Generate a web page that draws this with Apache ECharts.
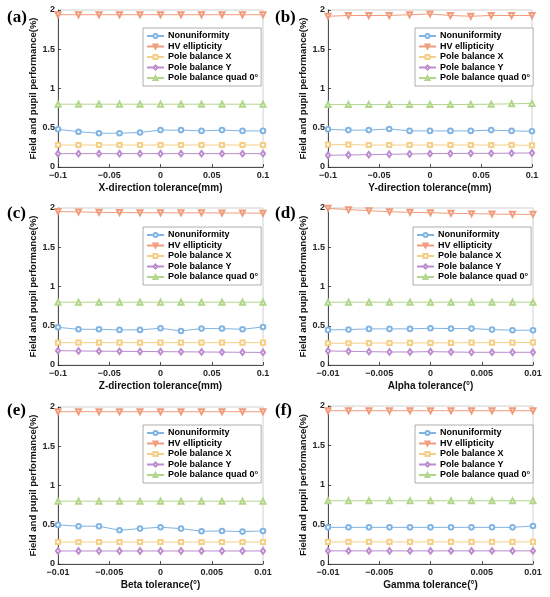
<!DOCTYPE html>
<html>
<head>
<meta charset="utf-8">
<script src="https://cdn.jsdelivr.net/npm/echarts@6/dist/echarts.min.js"></script>
<style>html,body{margin:0;padding:0;background:#fff;}#chart{width:550px;height:597px;}</style>
</head>
<body>
<div id="chart"></div>
<script>
// ---- data ----
const xMM  = [-0.1, -0.08, -0.06, -0.04, -0.02, 0, 0.02, 0.04, 0.06, 0.08, 0.1];
const xDeg = [-0.01, -0.008, -0.006, -0.004, -0.002, 0, 0.002, 0.004, 0.006, 0.008, 0.01];
const seriesNames = ['Nonuniformity', 'HV ellipticity', 'Pole balance X', 'Pole balance Y', 'Pole balance quad 0°'];
const panelLabels = ['(a)', '(b)', '(c)', '(d)', '(e)', '(f)'];
const xAxisNames = ['X-direction tolerance(mm)', 'Y-direction tolerance(mm)', 'Z-direction tolerance(mm)',
                    'Alpha tolerance(°)', 'Beta tolerance(°)', 'Gamma tolerance(°)'];
const yAxisName = 'Field and pupil performance(%)';
const yTicks = [0, 0.5, 1, 1.5, 2];

// panel (a) X-direction
const aNonuniformity = [0.48, 0.45, 0.43, 0.43, 0.44, 0.47, 0.47, 0.46, 0.47, 0.46, 0.46];
const aHV            = [1.94, 1.94, 1.94, 1.94, 1.94, 1.94, 1.94, 1.94, 1.94, 1.94, 1.94];
const aPoleX         = [0.28, 0.28, 0.28, 0.28, 0.28, 0.28, 0.28, 0.28, 0.28, 0.28, 0.28];
const aPoleY         = [0.17, 0.17, 0.17, 0.17, 0.17, 0.17, 0.17, 0.17, 0.17, 0.17, 0.17];
const aQuad          = [0.80, 0.80, 0.80, 0.80, 0.80, 0.80, 0.80, 0.80, 0.80, 0.80, 0.80];
// panel (b) Y-direction
const bNonuniformity = [0.48, 0.47, 0.47, 0.485, 0.46, 0.46, 0.46, 0.46, 0.47, 0.46, 0.455];
const bHV            = [1.92, 1.93, 1.93, 1.93, 1.94, 1.95, 1.93, 1.92, 1.93, 1.93, 1.93];
const bPoleX         = [0.285, 0.285, 0.28, 0.28, 0.28, 0.28, 0.28, 0.28, 0.28, 0.28, 0.275];
const bPoleY         = [0.15, 0.153, 0.157, 0.162, 0.166, 0.17, 0.172, 0.174, 0.174, 0.176, 0.179];
const bQuad          = [0.795, 0.795, 0.795, 0.795, 0.795, 0.795, 0.795, 0.797, 0.80, 0.805, 0.81];
// panel (c) Z-direction
const cNonuniformity = [0.48, 0.455, 0.455, 0.447, 0.447, 0.468, 0.434, 0.464, 0.464, 0.455, 0.485];
const cHV            = [1.955, 1.95, 1.945, 1.942, 1.94, 1.94, 1.938, 1.938, 1.936, 1.936, 1.934];
const cPoleX         = [0.285, 0.285, 0.285, 0.285, 0.285, 0.285, 0.285, 0.285, 0.285, 0.285, 0.285];
const cPoleY         = [0.183, 0.179, 0.176, 0.174, 0.172, 0.17, 0.168, 0.166, 0.164, 0.162, 0.16];
const cQuad          = [0.80, 0.80, 0.80, 0.80, 0.80, 0.80, 0.80, 0.80, 0.80, 0.80, 0.80];
// panel (d) Alpha
const dNonuniformity = [0.447, 0.451, 0.46, 0.46, 0.46, 0.468, 0.464, 0.464, 0.451, 0.443, 0.443];
const dHV            = [1.996, 1.979, 1.966, 1.953, 1.945, 1.94, 1.932, 1.928, 1.923, 1.919, 1.919];
const dPoleX         = [0.277, 0.277, 0.279, 0.28, 0.281, 0.282, 0.283, 0.284, 0.285, 0.286, 0.287];
const dPoleY         = [0.179, 0.174, 0.17, 0.166, 0.166, 0.17, 0.166, 0.162, 0.162, 0.162, 0.162];
const dQuad          = [0.80, 0.80, 0.80, 0.80, 0.80, 0.80, 0.80, 0.80, 0.80, 0.80, 0.80];
// panel (e) Beta
const eNonuniformity = [0.498, 0.481, 0.481, 0.43, 0.451, 0.468, 0.451, 0.417, 0.421, 0.413, 0.421];
const eHV            = [1.94, 1.94, 1.94, 1.94, 1.94, 1.94, 1.94, 1.94, 1.94, 1.94, 1.94];
const ePoleX         = [0.28, 0.28, 0.28, 0.28, 0.28, 0.28, 0.28, 0.28, 0.28, 0.28, 0.28];
const ePoleY         = [0.166, 0.166, 0.166, 0.166, 0.166, 0.166, 0.166, 0.166, 0.166, 0.166, 0.166];
const eQuad          = [0.80, 0.80, 0.80, 0.80, 0.80, 0.80, 0.80, 0.80, 0.80, 0.80, 0.80];
// panel (f) Gamma
const fNonuniformity = [0.464, 0.464, 0.464, 0.464, 0.464, 0.464, 0.464, 0.464, 0.464, 0.464, 0.481];
const fHV            = [1.94, 1.94, 1.94, 1.94, 1.94, 1.94, 1.94, 1.94, 1.94, 1.94, 1.94];
const fPoleX         = [0.28, 0.28, 0.28, 0.28, 0.28, 0.28, 0.28, 0.28, 0.28, 0.28, 0.28];
const fPoleY         = [0.166, 0.166, 0.166, 0.166, 0.166, 0.166, 0.166, 0.166, 0.166, 0.166, 0.166];
const fQuad          = [0.80, 0.80, 0.80, 0.80, 0.80, 0.80, 0.80, 0.80, 0.80, 0.80, 0.80];

// ---- layout / style ----
const panels = [
  { x: xMM,  ys: [aNonuniformity, aHV, aPoleX, aPoleY, aQuad], min: -0.1,  max: 0.1,  step: 0.05 },
  { x: xMM,  ys: [bNonuniformity, bHV, bPoleX, bPoleY, bQuad], min: -0.1,  max: 0.1,  step: 0.05 },
  { x: xMM,  ys: [cNonuniformity, cHV, cPoleX, cPoleY, cQuad], min: -0.1,  max: 0.1,  step: 0.05 },
  { x: xDeg, ys: [dNonuniformity, dHV, dPoleX, dPoleY, dQuad], min: -0.01, max: 0.01, step: 0.005 },
  { x: xDeg, ys: [eNonuniformity, eHV, ePoleX, ePoleY, eQuad], min: -0.01, max: 0.01, step: 0.005 },
  { x: xDeg, ys: [fNonuniformity, fHV, fPoleX, fPoleY, fQuad], min: -0.01, max: 0.01, step: 0.005 }
];
const gridBoxes = [
  { left: 58,  top: 10,  width: 205, height: 157 },
  { left: 328, top: 10,  width: 204, height: 157 },
  { left: 58,  top: 208, width: 205, height: 157 },
  { left: 328, top: 208, width: 205, height: 157 },
  { left: 58,  top: 407, width: 205, height: 157 },
  { left: 328, top: 406, width: 205, height: 158 }
];
const legendPos = [
  { left: 143, top: 28 }, { left: 415, top: 28 },
  { left: 143, top: 227 }, { left: 413, top: 227 },
  { left: 143, top: 425 }, { left: 415, top: 425 }
];
const labelPos = [
  { left: 7, top: 9 }, { left: 275, top: 9 },
  { left: 7, top: 205 }, { left: 275, top: 205 },
  { left: 7, top: 402 }, { left: 275, top: 402 }
];
const colors = ['#80b4e3', '#f09c7c', '#f5cf85', '#bb8ccf', '#b2d68a'];
const symbols = ['emptyCircle', 'emptyTriangle', 'emptyRect', 'emptyDiamond', 'emptyTriangle'];
const symRot = [0, 180, 0, 0, 0];
const symSize = [4.6, 5, 4.2, [4.2, 5.6], 5];
const FONT = '"Liberation Sans", Arial, sans-serif';
const AXC = '#262626';

function fmt(v) {
  return String(+(+v).toFixed(4)).replace('-', '\u2212');
}

const grid = [], xAxis = [], yAxis = [], series = [], legend = [], graphic = [];
panels.forEach((p, i) => {
  grid.push(Object.assign({ show: true, borderColor: '#c4c4c4', borderWidth: 0.8, containLabel: false }, gridBoxes[i]));
  xAxis.push({
    type: 'value', gridIndex: i, min: p.min, max: p.max, interval: p.step,
    name: xAxisNames[i], nameLocation: 'middle', nameGap: 16,
    nameTextStyle: { fontFamily: FONT, fontWeight: 'bold', fontSize: 10, color: '#111' },
    axisLine: { show: true, onZero: false, lineStyle: { color: AXC, width: 0.8 } },
    axisTick: { show: true, inside: true, length: 3, lineStyle: { color: AXC, width: 0.8 } },
    axisLabel: { fontFamily: FONT, fontWeight: 'bold', fontSize: 9, color: AXC, margin: 4, formatter: fmt },
    splitLine: { show: false }
  });
  yAxis.push({
    type: 'value', gridIndex: i, min: yTicks[0], max: yTicks[yTicks.length - 1], interval: yTicks[1] - yTicks[0],
    name: yAxisName, nameLocation: 'middle', nameGap: 13,
    nameTextStyle: { fontFamily: FONT, fontWeight: 'bold', fontSize: 9.5, color: '#111' },
    axisLine: { show: true, onZero: false, lineStyle: { color: AXC, width: 0.8 } },
    axisTick: { show: true, inside: true, length: 3, lineStyle: { color: AXC, width: 0.8 } },
    axisLabel: { fontFamily: FONT, fontWeight: 'bold', fontSize: 9, color: AXC, margin: 3, formatter: fmt },
    splitLine: { show: false }
  });
  p.ys.forEach((ys, k) => {
    series.push({
      type: 'line', name: seriesNames[k], xAxisIndex: i, yAxisIndex: i,
      data: p.x.map((xv, j) => [xv, ys[j]]),
      symbol: symbols[k], symbolRotate: symRot[k], symbolSize: symSize[k], showSymbol: true,
      lineStyle: { color: colors[k], width: 1 },
      itemStyle: { color: colors[k], borderColor: colors[k], borderWidth: 0.9 },
      emphasis: { disabled: true }, animation: false, z: 3
    });
  });
  legend.push({
    data: seriesNames, orient: 'vertical', left: legendPos[i].left, top: legendPos[i].top,
    itemWidth: 17, itemHeight: 5, itemGap: 0.5, padding: [3, 3, 3, 3],
    backgroundColor: '#fff', borderColor: '#9a9a9a', borderWidth: 0.8, selectedMode: false,
    textStyle: { fontFamily: FONT, fontWeight: 'bold', fontSize: 9, color: '#000', lineHeight: 10, padding: [0, 0, 0, -1] }
  });
  graphic.push({
    type: 'text', left: labelPos[i].left, top: labelPos[i].top,
    style: { text: panelLabels[i], font: 'bold 17px "Liberation Serif", "Times New Roman", serif', fill: '#000' }
  });
});

const chart = echarts.init(document.getElementById('chart'), null, { renderer: 'canvas' });
chart.setOption({ animation: false, backgroundColor: '#fff', grid, xAxis, yAxis, series, legend, graphic });
</script>
</body>
</html>
